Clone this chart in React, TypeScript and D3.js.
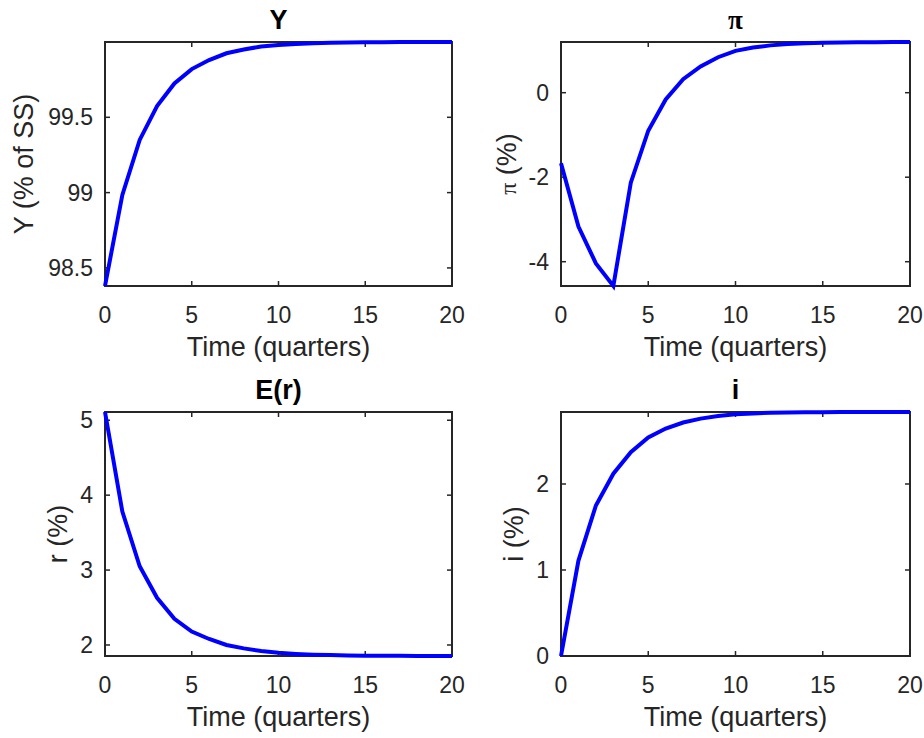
import React from "react";
import * as d3 from "d3";

const quarters = [0, 1, 2, 3, 4, 5, 6, 7, 8, 9, 10, 11, 12, 13, 14, 15, 16, 17, 18, 19, 20];

const outputY = [98.38, 98.985, 99.35, 99.575, 99.725, 99.82, 99.88, 99.925, 99.95, 99.97, 99.98, 99.987, 99.992, 99.995, 99.997, 99.998, 99.999, 99.9993, 99.9996, 99.9998, 99.9999];
const inflation = [-1.67, -3.17, -4.04, -4.575, -2.13, -0.9, -0.16, 0.32, 0.62, 0.84, 0.99, 1.07, 1.12, 1.15, 1.17, 1.18, 1.19, 1.195, 1.197, 1.199, 1.2];
const realRate = [5.11, 3.78, 3.05, 2.63, 2.35, 2.18, 2.08, 2.0, 1.955, 1.92, 1.895, 1.88, 1.87, 1.865, 1.86, 1.857, 1.856, 1.855, 1.854, 1.853, 1.853];
const nominalRate = [0, 1.11, 1.75, 2.12, 2.37, 2.54, 2.645, 2.715, 2.76, 2.79, 2.81, 2.82, 2.828, 2.832, 2.834, 2.835, 2.836, 2.836, 2.837, 2.837, 2.837];

const xTicks = [0, 5, 10, 15, 20];
const yTicksY = [98.5, 99, 99.5];
const yTicksPi = [-4, -2, 0];
const yTicksR = [2, 3, 4, 5];
const yTicksI = [0, 1, 2];

const AXIS = "#262626";
const FONT = "'Liberation Sans', Arial, Helvetica, sans-serif";
const SERIF = "'Liberation Serif', 'Times New Roman', serif";

type PanelProps = {
  left: number; top: number; width: number; height: number;
  values: number[]; yTicks: number[]; title: React.ReactNode; ylabel: React.ReactNode;
  ylabelX: number;
};

function Panel({ left, top, width, height, values, yTicks, title, ylabel, ylabelX }: PanelProps) {
  const x = d3.scaleLinear().domain([0, 20]).range([left, left + width]);
  const y = d3.scaleLinear().domain(d3.extent(values) as [number, number]).range([top + height, top]);
  const line = d3.line<number>().x((_, i) => x(quarters[i])).y((d) => y(d));
  const tl = 5;
  const bottom = top + height;
  const right = left + width;
  const cx = left + width / 2;

  return (
    <g>
      <rect x={left} y={top} width={width} height={height} fill="#fff" />
      {xTicks.map((t) => (
        <g key={"x" + t}>
          <line x1={x(t)} x2={x(t)} y1={bottom} y2={bottom - tl} stroke={AXIS} strokeWidth={1.5} />
          <line x1={x(t)} x2={x(t)} y1={top} y2={top + tl} stroke={AXIS} strokeWidth={1.5} />
          <text x={x(t)} y={bottom + 37} textAnchor="middle" fontSize={23} fill={AXIS} fontFamily={FONT}>{t}</text>
        </g>
      ))}
      {yTicks.map((t) => (
        <g key={"y" + t}>
          <line x1={left} x2={left + tl} y1={y(t)} y2={y(t)} stroke={AXIS} strokeWidth={1.5} />
          <line x1={right} x2={right - tl} y1={y(t)} y2={y(t)} stroke={AXIS} strokeWidth={1.5} />
          <text x={left - 12} y={y(t) + 8} textAnchor="end" fontSize={23} fill={AXIS} fontFamily={FONT}>{t}</text>
        </g>
      ))}
      <rect x={left} y={top} width={width} height={height} fill="none" stroke={AXIS} strokeWidth={2} />
      <path d={line(values) ?? ""} fill="none" stroke="#0000ff" strokeWidth={4} strokeLinejoin="miter" />
      <text x={cx} y={bottom + 70} textAnchor="middle" fontSize={27} fill={AXIS} fontFamily={FONT}>Time (quarters)</text>
      <text transform={`translate(${ylabelX},${top + height / 2}) rotate(-90)`} textAnchor="middle" fontSize={27} fill={AXIS} fontFamily={FONT}>{ylabel}</text>
      <text x={cx} y={top - 13} textAnchor="middle" fontSize={27} fontWeight="bold" fill="#000" fontFamily={FONT}>{title}</text>
    </g>
  );
}

export default function App() {
  return (
    <svg width={924} height={738} style={{ position: "absolute", left: 0, top: 0, background: "#fff" }}>
      <rect width={924} height={738} fill="#fff" />
      <Panel left={105} top={42} width={347} height={244} values={outputY} yTicks={yTicksY}
        title="Y" ylabel="Y (% of SS)" ylabelX={33} />
      <Panel left={561} top={42} width={349} height={244} values={inflation} yTicks={yTicksPi}
        title={<tspan fontFamily={SERIF}>π</tspan>}
        ylabel={<><tspan fontFamily={SERIF} fontSize={24}>π</tspan><tspan> (%)</tspan></>} ylabelX={516} />
      <Panel left={105} top={412} width={347} height={244} values={realRate} yTicks={yTicksR}
        title="E(r)" ylabel="r (%)" ylabelX={67} />
      <Panel left={561} top={412} width={349} height={244} values={nominalRate} yTicks={yTicksI}
        title="i" ylabel="i (%)" ylabelX={523} />
    </svg>
  );
}
